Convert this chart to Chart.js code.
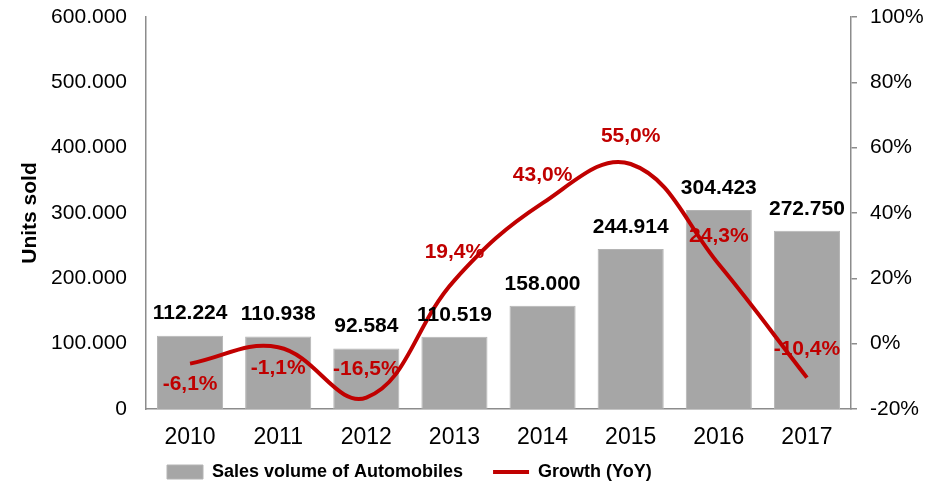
<!DOCTYPE html>
<html lang="en">
<head>
  <meta charset="UTF-8" />
  <title>Sales volume of Automobiles</title>
  <script src="https://cdn.jsdelivr.net/npm/chart.js"></script>
  <style>
    html, body { margin: 0; padding: 0; background: #fff; }
    #wrap { width: 931px; height: 486px; position: relative; }
  </style>
</head>
<body>
  <div id="wrap"><canvas id="salesChart"></canvas></div>

  <script>
    // Data
    const years = ['2010', '2011', '2012', '2013', '2014', '2015', '2016', '2017'];
    const salesVolume = [112224, 110938, 92584, 110519, 158000, 244914, 304423, 272750];
    const growthYoY = [-6.1, -1.1, -16.5, 19.4, 43.0, 55.0, 24.3, -10.4];
    const unitTicks = [0, 100000, 200000, 300000, 400000, 500000, 600000];
    const pctTicks = [-20, 0, 20, 40, 60, 80, 100];

    const RED = '#c00000';
    const AXIS = '#8c8c8c';
    const FONT = '"Liberation Sans", Arial, Helvetica, sans-serif';
    const LEGEND_SIZE = 18;

    const fmtUnits = v => v === 0 ? '0' : v.toLocaleString('de-DE');
    const fmtPct = v => v.toFixed(1).replace('.', ',') + '%';

    // where each growth label sits relative to its point
    const growthLabelSide = ['below', 'below', 'above', 'above', 'above', 'above', 'above', 'above'];

    const valueLabels = {
      id: 'valueLabels',
      afterDatasetsDraw(chart) {
        const ctx = chart.ctx;
        ctx.save();
        ctx.textAlign = 'center';
        ctx.textBaseline = 'middle';
        ctx.font = 'bold 21px ' + FONT;

        ctx.fillStyle = '#000';
        chart.getDatasetMeta(1).data.forEach((bar, i) => {
          ctx.fillText(fmtUnits(salesVolume[i]), bar.x, bar.y - 22);
        });

        ctx.fillStyle = RED;
        chart.getDatasetMeta(0).data.forEach((pt, i) => {
          const dy = growthLabelSide[i] === 'below' ? 21 : -28;
          ctx.fillText(fmtPct(growthYoY[i]), pt.x, pt.y + dy);
        });
        ctx.restore();
      },
      beforeDraw(chart) {
        // put the legend where the original has it
        const lg = chart.legend;
        const pad = lg.options.labels.padding;
        lg.left = 167 - pad;
        lg.top = 472 - pad - LEGEND_SIZE / 2;
      }
    };

    // fixed axis widths, no extra label overflow padding
    const fixWidth = w => s => { s.width = w; s.paddingTop = 0; s.paddingBottom = 0; };

    new Chart(document.getElementById('salesChart'), {
      data: {
        labels: years,
        datasets: [
          {
            type: 'line',
            label: 'Growth (YoY)',
            data: growthYoY,
            yAxisID: 'y1',
            borderColor: RED,
            backgroundColor: RED,
            borderWidth: 4,
            tension: 0.4,
            pointRadius: 0,
            pointStyle: 'line',
            clip: false
          },
          {
            type: 'bar',
            label: 'Sales volume of Automobiles',
            data: salesVolume,
            yAxisID: 'y',
            backgroundColor: '#a6a6a6',
            borderColor: '#b4b4b4',
            borderWidth: 1,
            pointStyle: 'rect',
            categoryPercentage: 1,
            barPercentage: 0.75
          }
        ]
      },
      options: {
        responsive: true,
        maintainAspectRatio: false,
        animation: false,
        devicePixelRatio: 1,
        layout: { padding: { top: 17, left: 0, right: 0, bottom: 0 } },
        plugins: {
          tooltip: { enabled: false },
          legend: {
            position: 'bottom',
            align: 'start',
            reverse: true,
            maxHeight: 37,
            labels: {
              usePointStyle: true,
              pointStyleWidth: 36,
              boxHeight: 14,
              padding: 30,
              color: '#000',
              font: { family: FONT, size: LEGEND_SIZE, weight: 'bold' }
            }
          }
        },
        scales: {
          x: {
            grid: { display: false, drawTicks: false },
            border: { display: true, color: AXIS, width: 1.5 },
            ticks: { color: '#000', padding: 15, font: { family: FONT, size: 23 } },
            afterFit: s => { s.height = 40; s.paddingLeft = 0; s.paddingRight = 0; }
          },
          y: {
            position: 'left',
            min: 0,
            max: 600000,
            afterBuildTicks: s => { s.ticks = unitTicks.map(v => ({ value: v })); },
            grid: { display: false, drawTicks: false },
            border: { display: true, color: AXIS, width: 1.5 },
            ticks: {
              color: '#000',
              padding: 19,
              font: { family: FONT, size: 21 },
              callback: v => fmtUnits(v)
            },
            title: {
              display: true,
              text: 'Units sold',
              color: '#000',
              padding: { top: 18, bottom: 0 },
              font: { family: FONT, size: 21, weight: 'bold' }
            },
            afterFit: fixWidth(146)
          },
          y1: {
            position: 'right',
            min: -20,
            max: 100,
            afterBuildTicks: s => { s.ticks = pctTicks.map(v => ({ value: v })); },
            grid: { display: true, drawOnChartArea: false, drawTicks: true, tickLength: 6, color: AXIS, lineWidth: 1.5 },
            border: { display: true, color: AXIS, width: 1.5 },
            ticks: {
              color: '#000',
              padding: 13,
              font: { family: FONT, size: 21 },
              callback: v => v + '%'
            },
            afterFit: fixWidth(80)
          }
        }
      },
      plugins: [valueLabels]
    });
  </script>
</body>
</html>
